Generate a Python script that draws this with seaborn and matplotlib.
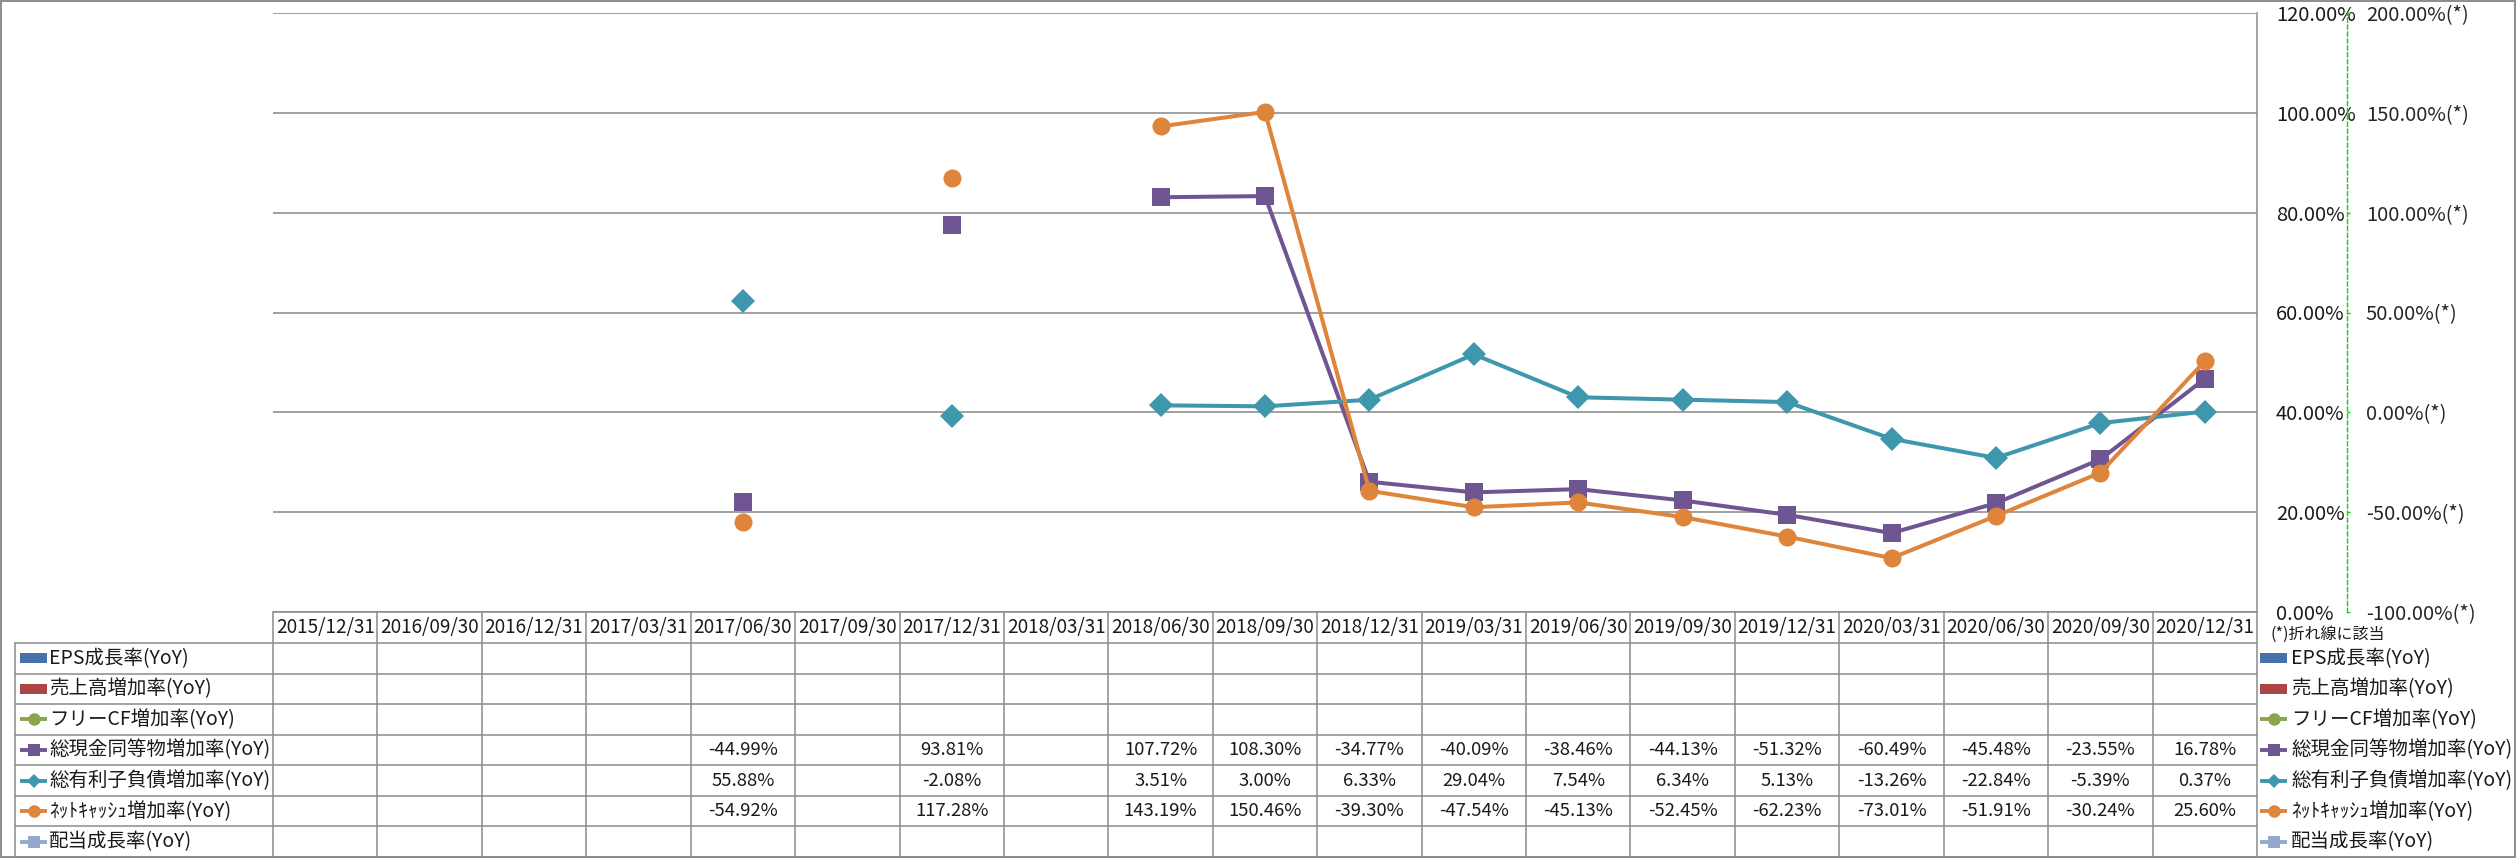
import numpy as np
import pandas as pd
import matplotlib
matplotlib.use("Agg")
import matplotlib.pyplot as plt
from matplotlib.patches import Rectangle
import seaborn as sns

dates = ["2015/12/31", "2016/09/30", "2016/12/31", "2017/03/31", "2017/06/30",
         "2017/09/30", "2017/12/31", "2018/03/31", "2018/06/30", "2018/09/30",
         "2018/12/31", "2019/03/31", "2019/06/30", "2019/09/30", "2019/12/31",
         "2020/03/31", "2020/06/30", "2020/09/30", "2020/12/31"]
nan = np.nan
eps_growth = [nan] * 19
sales_growth = [nan] * 19
fcf_growth = [nan] * 19
cash_growth = [nan, nan, nan, nan, -44.99, nan, 93.81, nan, 107.72, 108.30,
               -34.77, -40.09, -38.46, -44.13, -51.32, -60.49, -45.48, -23.55, 16.78]
debt_growth = [nan, nan, nan, nan, 55.88, nan, -2.08, nan, 3.51, 3.00,
               6.33, 29.04, 7.54, 6.34, 5.13, -13.26, -22.84, -5.39, 0.37]
netcash_growth = [nan, nan, nan, nan, -54.92, nan, 117.28, nan, 143.19, 150.46,
                  -39.30, -47.54, -45.13, -52.45, -62.23, -73.01, -51.91, -30.24, 25.60]
div_growth = [nan] * 19

series_names = ["EPS成長率(YoY)", "売上高増加率(YoY)", "フリーCF増加率(YoY)",
                "総現金同等物増加率(YoY)", "総有利子負債増加率(YoY)",
                "ﾈｯﾄｷｬｯｼｭ増加率(YoY)", "配当成長率(YoY)"]
series_values = [eps_growth, sales_growth, fcf_growth, cash_growth,
                 debt_growth, netcash_growth, div_growth]
series_colors = ["#4672A8", "#AA4643", "#89A54E", "#6F5592",
                 "#3F97AE", "#DF843B", "#93A9CF"]
series_keys = ["bar", "bar", "o", "s", "D", "o", "s"]

left_ticks = [0, 20, 40, 60, 80, 100, 120]
right_ticks = [-100, -50, 0, 50, 100, 150, 200]

sns.set_theme(style="white")
plt.rcParams['font.family'] = ['Noto Sans CJK JP', 'DejaVu Sans']

W, H = 2517, 858
fig = plt.figure(figsize=(W / 100, H / 100), dpi=100)
fig.patch.set_facecolor("white")

# pixel-space layer for the data table, legend and outer frame
tab = fig.add_axes([0, 0, 1, 1])
tab.set_xlim(0, W)
tab.set_ylim(H, 0)
tab.axis("off")

col_left, col_right = 273, 2257
plot_top, plot_bot = 13, 612
head_bot, tab_bot = 643, 857
label_left = 15

ax = fig.add_axes([col_left / W, (H - plot_bot) / H,
                   (col_right - col_left) / W, (plot_bot - plot_top) / H])
ax.set_facecolor("none")
ax2 = ax.twinx()

# lines on the secondary axis
for name, vals, color, key in zip(series_names, series_values, series_colors, series_keys):
    s = pd.Series(vals, dtype=float)
    if s.isna().all():
        continue
    df = pd.DataFrame({"x": np.arange(len(vals)), "y": s, "seg": s.isna().cumsum()}).dropna()
    ms = 12.6 if key == "D" else 13
    sns.lineplot(data=df, x="x", y="y", units="seg", estimator=None, ax=ax2,
                 color=color, linewidth=2.9, marker=key, markersize=ms,
                 markeredgewidth=0, legend=False)

ax.set_xlim(-0.5, len(dates) - 0.5)
ax.set_ylim(0, 120)
ax2.set_ylim(-100, 200)
ax.set_xticks([])
ax.set_xlabel("")
ax2.set_xlabel("")
ax2.set_ylabel("")

ax.set_yticks(left_ticks)
ax.yaxis.tick_right()
ax.set_yticklabels([f"{t:.2f}%" for t in left_ticks])
ax.tick_params(axis="y", length=0, pad=13.5, labelsize=14.5, labelcolor="#1a1a1a")
ax.grid(axis="y", color="#868686", lw=1.1)
ax.grid(axis="x", visible=False)
for side in ["left", "top", "bottom"]:
    ax.spines[side].set_visible(False)
ax.spines["right"].set_color("#8C8C8C")
ax.spines["right"].set_linewidth(1.1)

ax2.set_yticks(right_ticks)
ax2.set_yticklabels([f"{t:.2f}%(*)" for t in right_ticks])
for lab, t in zip(ax2.get_yticklabels(), right_ticks):
    lab.set_color("#FF0000" if t < 0 else "#1a1a1a")
ax2.tick_params(axis="y", direction="out", length=2.5, width=1, color="#00DD00",
                pad=11, labelsize=14.5)
for side in ["left", "top", "bottom"]:
    ax2.spines[side].set_visible(False)
ax2.spines["right"].set_position(("axes", (2347 - col_left) / (col_right - col_left)))
ax2.spines["right"].set_color("#00DD00")
ax2.spines["right"].set_linestyle((0, (3, 2)))
ax2.spines["right"].set_linewidth(1)
ax2.grid(False)

# data table
ncol = len(dates)
cw = (col_right - col_left) / ncol
nrow = len(series_names)
rh = (tab_bot - head_bot) / nrow
line_kw = dict(color="#8C8C8C", lw=1.1)
tab.plot([col_left, col_right], [plot_bot, plot_bot], **line_kw)
for r in range(nrow + 1):
    y = head_bot + r * rh
    tab.plot([label_left, col_right], [y, y], **line_kw)
for c in range(ncol + 1):
    x = col_left + c * cw
    tab.plot([x, x], [plot_bot, tab_bot], **line_kw)
tab.plot([label_left, label_left], [head_bot, tab_bot], **line_kw)

for c, d in enumerate(dates):
    tab.text(col_left + (c + 0.5) * cw, (plot_bot + head_bot) / 2, d,
             ha="center", va="center", fontsize=13.6, color="#1a1a1a")
for r, vals in enumerate(series_values):
    yc = head_bot + (r + 0.5) * rh
    for c, v in enumerate(vals):
        if not np.isnan(v):
            tab.text(col_left + (c + 0.5) * cw, yc, f"{v:.2f}%",
                     ha="center", va="center", fontsize=13.3, color="#1a1a1a")


def draw_key(x0, y, key, color):
    if key == "bar":
        tab.add_patch(Rectangle((x0, y - 5), 27, 10, color=color, lw=0))
    else:
        tab.plot([x0, x0 + 27], [y, y], color=color, lw=2.8, solid_capstyle="butt")
        tab.plot([x0 + 13.5], [y], marker=key, color=color,
                 ms=7.5 if key == "D" else 9, mew=0)


for r, (name, color, key) in enumerate(zip(series_names, series_colors, series_keys)):
    yc = head_bot + (r + 0.5) * rh
    draw_key(20, yc, key, color)
    tab.text(49, yc, name, ha="left", va="center", fontsize=14, color="#1a1a1a")
    draw_key(2260, yc, key, color)
    tab.text(2291, yc, name, ha="left", va="center", fontsize=14, color="#1a1a1a")

tab.text(2270, 634, "(*)折れ線に該当", ha="left", va="center", fontsize=11.5, color="#1a1a1a")

# outer frame
tab.add_patch(Rectangle((1, 1), 2514, 856, fill=False, edgecolor="#8C8C8C", lw=1.4))

fig.savefig("out.png", dpi=100)
